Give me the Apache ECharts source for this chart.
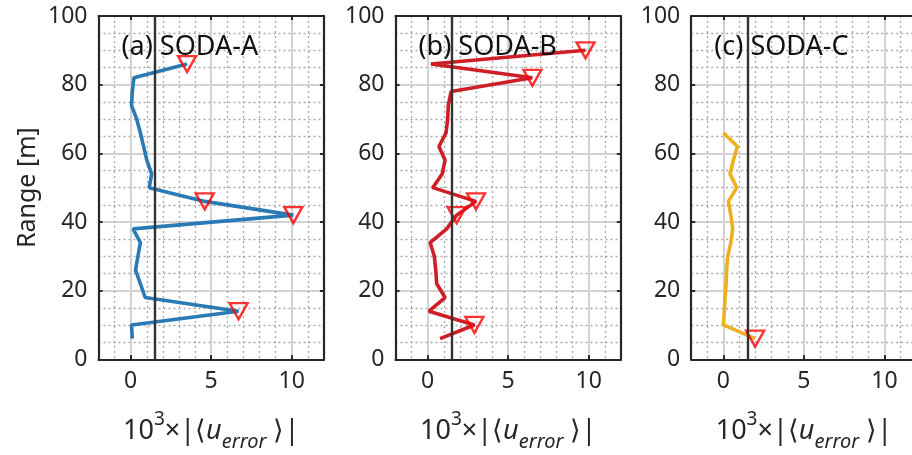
<!DOCTYPE html>
<html>
<head>
<meta charset="utf-8">
<script src="https://cdn.jsdelivr.net/npm/echarts@6/dist/echarts.min.js"></script>
<style>
  html, body { margin: 0; padding: 0; background: #ffffff; }
  #chart { width: 912px; height: 455px; }
</style>
</head>
<body>
<div id="chart"></div>
<script>
// Detection threshold drawn as the vertical reference line in every panel
const THRESHOLD = 1.5;

// Range gates [m]
const rangeA = [6, 10, 14, 18, 22, 26, 30, 34, 38, 42, 46, 50, 54, 58, 62, 66, 70, 74, 78, 82, 86];
const rangeB = [6, 10, 14, 18, 22, 26, 30, 34, 38, 42, 46, 50, 54, 58, 62, 66, 70, 74, 78, 82, 86, 90];
const rangeC = [6, 10, 14, 18, 22, 26, 30, 34, 38, 42, 46, 50, 54, 58, 62, 66];

// 10^3 x |<u_error>| per range gate
const errA = [0.1, 0.05, 6.7, 0.9, 0.6, 0.3, 0.45, 0.6, 0.15, 10.1, 4.6, 1.15, 1.3, 1.0, 0.8, 0.6, 0.37, 0.05, 0.1, 0.2, 3.5];
const errB = [0.77, 2.9, 0.08, 1.08, 0.56, 0.5, 0.41, 0.15, 1.18, 1.8, 3.0, 0.31, 0.9, 1.08, 0.7, 1.14, 1.24, 1.28, 1.45, 6.5, 0.2, 9.8];
const errC = [1.97, 0.0, 0.06, 0.1, 0.17, 0.2, 0.27, 0.46, 0.58, 0.46, 0.31, 0.83, 0.41, 0.62, 0.87, 0.0];

const panelTitles = ['(a) SODA-A', '(b) SODA-B', '(c) SODA-C'];
const lineColors = ['#2a7ab5', '#cf1f26', '#edb120'];
const xTickLabels = [0, 5, 10];
const yTickLabels = [0, 20, 40, 60, 80, 100];

const panels = [
  { range: rangeA, err: errA },
  { range: rangeB, err: errB },
  { range: rangeC, err: errC }
];

const TEXT = '#262626';
const FONT = 'Noto Sans';
const gridLefts = [98.5, 395.5, 691.2];
const GRID_W = 225.4, GRID_TOP = 16, GRID_H = 343.3;

const chart = echarts.init(document.getElementById('chart'), null, { renderer: 'canvas' });

const grids = [], xAxes = [], yAxes = [], series = [], titles = [];

const frameLine = { show: true, onZero: false, lineStyle: { color: TEXT, width: 2.2 } };
const xBase = { type: 'value', min: -2, max: 12, splitNumber: 3 };
const yBase = { type: 'value', min: 0, max: 100, interval: 20 };
const inTick = { show: true, inside: true, length: 4, lineStyle: { color: TEXT, width: 2 } };

panels.forEach((p, i) => {
  grids.push({
    left: gridLefts[i], top: GRID_TOP, width: GRID_W, height: GRID_H,
    containLabel: false, outerBoundsMode: 'none'
  });

  // bottom x axis with labels and both grids
  xAxes.push(Object.assign({}, xBase, {
    gridIndex: i, position: 'bottom',
    axisLine: frameLine,
    axisTick: inTick,
    axisLabel: {
      margin: 11, color: TEXT, fontFamily: FONT, fontSize: 23,
      formatter: v => (xTickLabels.indexOf(v) >= 0 ? String(v) : '')
    },
    splitLine: { show: true, showMinLine: false, showMaxLine: false, lineStyle: { color: '#d2d2d2', width: 2 } },
    minorTick: { show: false, splitNumber: 5 },
    minorSplitLine: { show: true, lineStyle: { color: '#a8a8a8', width: 1.3, type: [2, 3] } },
    name: '{n|10}{sup|3}{n|×|⟨}{u|u}{sub|error}{n| ⟩|}',
    nameLocation: 'middle', nameGap: 51,
    nameTextStyle: {
      color: TEXT, fontFamily: FONT, fontSize: 27,
      rich: {
        n: { color: TEXT, fontFamily: FONT, fontSize: 27, lineHeight: 42, verticalAlign: 'middle' },
        sup: { color: TEXT, fontFamily: FONT, fontSize: 19, lineHeight: 22, verticalAlign: 'top' },
        u: { color: TEXT, fontFamily: FONT, fontSize: 27, fontStyle: 'italic', lineHeight: 42, verticalAlign: 'middle' },
        sub: { color: TEXT, fontFamily: FONT, fontSize: 20, fontStyle: 'italic', lineHeight: 20, verticalAlign: 'bottom' }
      }
    }
  }));
  // top x axis: frame and inward ticks only
  xAxes.push(Object.assign({}, xBase, {
    gridIndex: i, position: 'top',
    axisLine: frameLine, axisTick: inTick,
    axisLabel: { show: false }, splitLine: { show: false }
  }));

  yAxes.push(Object.assign({}, yBase, {
    gridIndex: i, position: 'left',
    axisLine: frameLine, axisTick: inTick,
    axisLabel: {
      margin: 11, color: TEXT, fontFamily: FONT, fontSize: 23,
      formatter: v => (yTickLabels.indexOf(v) >= 0 ? String(v) : '')
    },
    splitLine: { show: true, showMinLine: false, showMaxLine: false, lineStyle: { color: '#d2d2d2', width: 2 } },
    minorTick: { show: false, splitNumber: 4 },
    minorSplitLine: { show: true, lineStyle: { color: '#a8a8a8', width: 1.3, type: [2, 3] } },
    name: i === 0 ? 'Range [m]' : '',
    nameLocation: 'middle', nameGap: 58,
    nameTextStyle: { color: TEXT, fontFamily: FONT, fontSize: 25 }
  }));
  yAxes.push(Object.assign({}, yBase, {
    gridIndex: i, position: 'right',
    axisLine: frameLine, axisTick: inTick,
    axisLabel: { show: false }, splitLine: { show: false }
  }));

  const pts = p.range.map((r, k) => [p.err[k], r]);
  const flagged = pts.filter(d => d[0] > THRESHOLD);

  series.push({
    type: 'line', xAxisIndex: 2 * i, yAxisIndex: 2 * i,
    data: pts, showSymbol: false, symbol: 'none', smooth: false,
    lineStyle: { color: lineColors[i], width: 3.6 },
    z: 3,
    markLine: {
      silent: true, symbol: ['none', 'none'], label: { show: false },
      lineStyle: { color: '#333333', width: 2.4, type: 'solid' },
      emphasis: { disabled: true },
      data: [{ xAxis: THRESHOLD }]
    }
  });
  series.push({
    type: 'scatter', xAxisIndex: 2 * i, yAxisIndex: 2 * i,
    data: flagged,
    symbol: 'path://M0,0L20,0L10,17Z', symbolSize: [18, 16],
    itemStyle: { color: 'rgba(0,0,0,0)', borderColor: '#ff0000', borderWidth: 2.4 },
    z: 4
  });

  titles.push({
    text: panelTitles[i], left: gridLefts[i] + 18, top: 29,
    textStyle: { color: '#111111', fontFamily: FONT, fontSize: 27, fontWeight: 'normal' }
  });
});

chart.setOption({
  animation: false,
  backgroundColor: '#ffffff',
  title: titles,
  grid: grids,
  xAxis: xAxes,
  yAxis: yAxes,
  series: series
});
</script>
</body>
</html>
